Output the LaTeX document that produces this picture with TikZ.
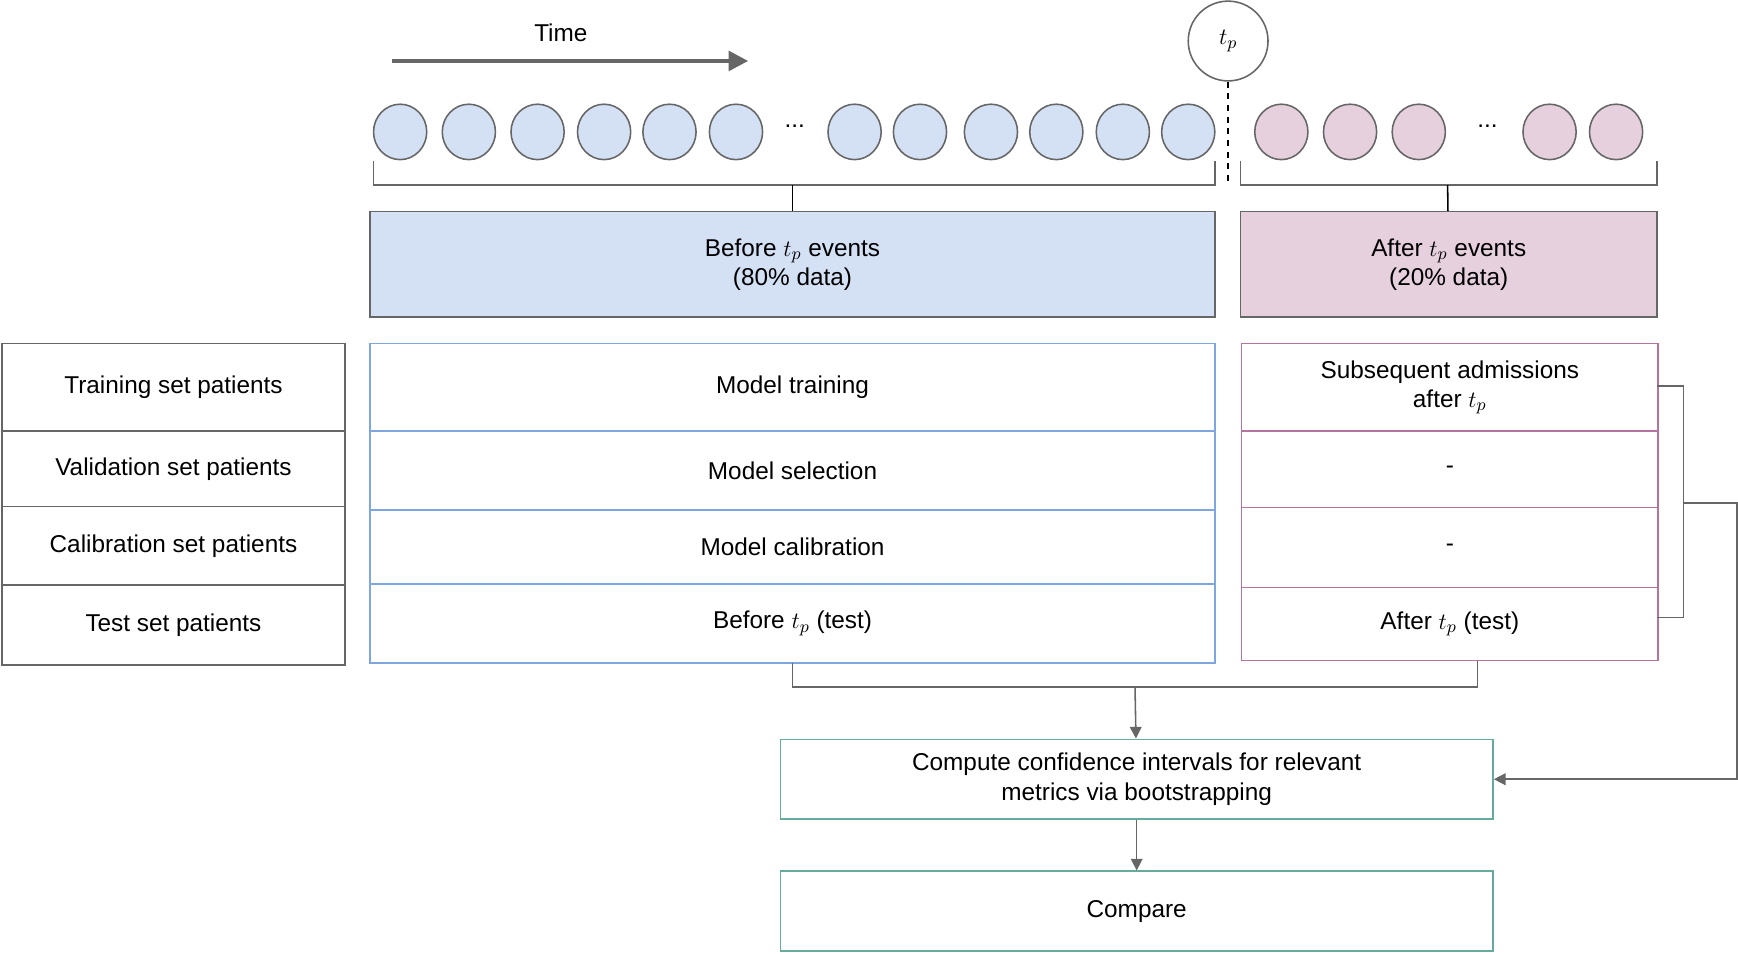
\documentclass[tikz,border=0pt]{standalone}
\usepackage{fontspec}
\setmainfont{Liberation Sans}
\usetikzlibrary{arrows.meta}
\definecolor{bfill}{HTML}{D4E1F5}
\definecolor{bline}{HTML}{7EA6E0}
\definecolor{pfill}{HTML}{E6D0DE}
\definecolor{pline}{HTML}{B5739D}
\definecolor{tline}{HTML}{67AB9F}
\definecolor{gline}{HTML}{666666}
\tikzset{
  txt/.style={font=\fontsize{12.5}{15}\selectfont, align=center},
  ev/.style={ellipse, draw=gline, thick, minimum width=0.96cm, minimum height=1cm, inner sep=0pt},
  cell/.style={txt, draw, thick, inner sep=0pt},
  con/.style={gline, thick},
}
\usetikzlibrary{shapes.geometric}
\newcommand{\cellbox}[6]{% name, x1, y1, x2, y2, style/text
  \node[cell, #6, minimum width={(#4-#2)*0.02cm}, minimum height={(#5-#3)*0.02cm}] (#1) at ({(#2+#4)/2},{(#3+#5)/2})}
\begin{document}
\begin{tikzpicture}[x=0.02cm, y=-0.02cm]
    \useasboundingbox (0,0) rectangle (1568,860);

    % time axis
    \node[txt] (time) at (506,30) {Time};
    \coordinate (t0) at (354,55);
    \coordinate (t1) at (675,55);
    \draw[gline, line width=2pt, -{Triangle[length=10pt, width=10pt]}] (t0) -- (t1);

    % events
    \foreach \x [count=\i] in {361,423,485,545,604,664,771,830,894,953,1013,1072}
        \node[ev, fill=bfill] (b\i) at (\x,119) {};
    \foreach \x [count=\i] in {1156,1218,1280,1398,1458}
        \node[ev, fill=pfill] (p\i) at (\x,119) {};
    \node[txt] (dotsb) at (717,114) {...};
    \node[txt] (dotsp) at (1342,114) {...};

    \node[circle, draw=gline, thick, fill=white, minimum size=1.44cm, txt] (tp) at (1108,37) {$t_p$};
    \coordinate (cut) at (1108,167);
    \draw[thick, dashed] (tp) -- (cut);

    % brackets
    \draw[con] (337,145) -- (337,167) -- (1096,167) -- (1096,145);
    \draw[con] (1119,145) -- (1119,167) -- (1495,167) -- (1495,145);

    \cellbox{before}{334}{191}{1096}{286}{draw=gline, fill=bfill} {Before $t_p$ events\\(80\% data)};
    \cellbox{after}{1119}{191}{1495}{286}{draw=gline, fill=pfill} {After $t_p$ events\\(20\% data)};
    \draw[thick] (715,167) -- (before);
    \draw[thick] (1306,167) -- (after);

    % patient sets
    \cellbox{ltr}{2}{310}{311}{389}{draw=gline} {Training set patients};
    \cellbox{lva}{2}{389}{311}{457}{draw=gline} {Validation set patients};
    \cellbox{lca}{2}{457}{311}{528}{draw=gline} {Calibration set patients};
    \cellbox{lte}{2}{528}{311}{600}{draw=gline} {Test set patients};

    \cellbox{btr}{334}{310}{1096}{389}{draw=bline} {Model training};
    \cellbox{bva}{334}{389}{1096}{460}{draw=bline} {Model selection};
    \cellbox{bca}{334}{460}{1096}{527}{draw=bline} {Model calibration};
    \cellbox{bte}{334}{527}{1096}{598}{draw=bline} {Before $t_p$ (test)};

    \cellbox{ptr}{1120}{310}{1496}{389}{draw=pline} {Subsequent admissions\\after $t_p$};
    \cellbox{pva}{1120}{389}{1496}{458}{draw=pline} {-};
    \cellbox{pca}{1120}{458}{1496}{530}{draw=pline} {-};
    \cellbox{pte}{1120}{530}{1496}{596}{draw=pline} {After $t_p$ (test)};

    % evaluation
    \cellbox{ci}{704}{667}{1347}{739}{draw=tline} {Compute confidence intervals for relevant\\metrics via bootstrapping};
    \cellbox{cmp}{704}{786}{1347}{858}{draw=tline} {Compare};

    \coordinate (join) at (1024,620);
    \draw[con] (715,598) -- (715,620) -- (1333,620) -- (1333,596);
    \draw[con, -{Triangle[length=6pt, width=6pt]}] (join) -- (ci);
    \draw[con, -{Triangle[length=6pt, width=6pt]}] (ci) -- (cmp);

    \coordinate (rb) at (1519,454);
    \draw[con] (1495,348) -- (1519,348) -- (1519,557) -- (1495,557);
    \draw[con, -{Triangle[length=6pt, width=6pt]}] (rb) -- (1567,454) |- (ci.east);
\end{tikzpicture}
\end{document}
